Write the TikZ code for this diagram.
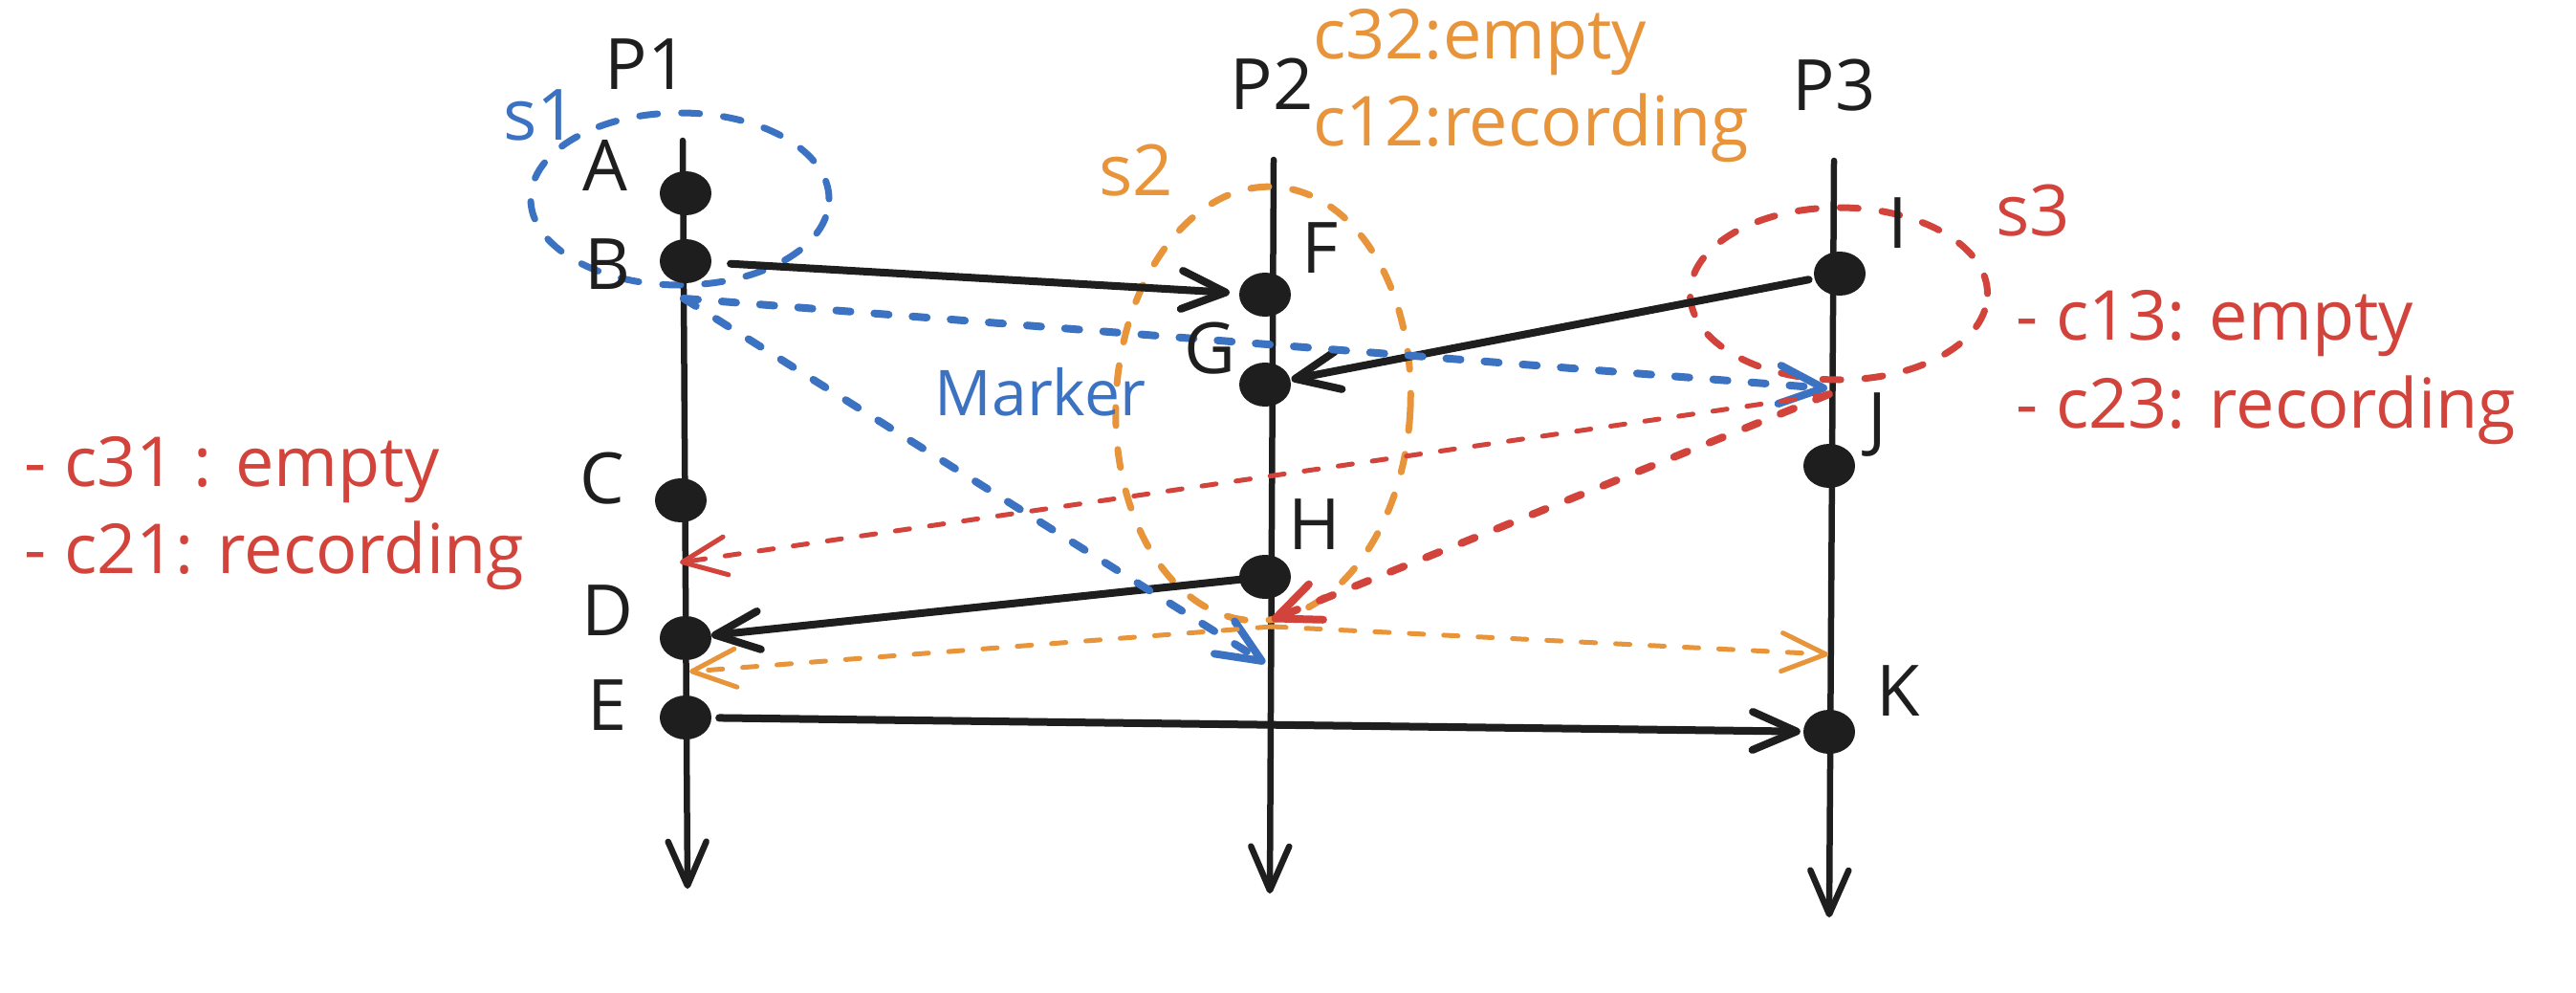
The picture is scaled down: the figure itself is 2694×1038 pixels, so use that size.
\documentclass[tikz,border=0pt]{standalone}
\usepackage{fontspec}
\setmainfont{Open Sans}
\usetikzlibrary{arrows.meta,shapes.geometric}
\definecolor{ink}{HTML}{1E1E1E}
\definecolor{sblue}{HTML}{3B72C1}
\definecolor{sorange}{HTML}{E8943A}
\definecolor{sred}{HTML}{D2443B}
\begin{document}
\begin{tikzpicture}[x=1pt,y=-1pt,
  dot/.style={ellipse,fill=ink,minimum width=54pt,minimum height=46pt,inner sep=0pt},
  lbl/.style={font=\fontsize{74pt}{80pt}\selectfont,text=ink,inner sep=0pt},
  note/.style={font=\fontsize{72pt}{80pt}\selectfont,inner sep=0pt,anchor=base west},
  tipped/.style={-{Straight Barb[length=46pt,width=40pt,round]}},
  proc/.style={draw=ink,line width=6.5pt,line cap=round,tipped},
  msg/.style={draw=ink,line width=8pt,line cap=round,tipped},
  bluedash/.style={draw=sblue,line width=8pt,line cap=round,dash pattern=on 15pt off 25pt,tipped},
  redthick/.style={draw=sred,line width=8pt,line cap=round,dash pattern=on 15pt off 25pt,tipped},
  thindash/.style={line width=5pt,line cap=round,dash pattern=on 15pt off 21pt,tipped},
  snap/.style={ellipse,inner sep=0pt,line width=7pt,line cap=round,dash pattern=on 19pt off 25pt},
]
\path[fill=white,use as bounding box] (0,0) rectangle (2694,1038);

% process lines
\coordinate (P1top) at (714,147);
\coordinate (P1bot) at (719,929);
\coordinate (P2top) at (1332,167);
\coordinate (P2bot) at (1328,934);
\coordinate (P3top) at (1918,168);
\coordinate (P3bot) at (1913,959);
\draw[proc] (P1top) -- (P1bot);
\draw[proc] (P2top) -- (P2bot);
\draw[proc] (P3top) -- (P3bot);

% snapshot ellipses
\node[snap,draw=sblue,minimum width=312pt,minimum height=180pt] (s1e) at (711,208) {};
\node[snap,draw=sorange,minimum width=308pt,minimum height=454pt,rotate=-3] (s2e) at (1321,422) {};
\node[snap,draw=sred,minimum width=311pt,minimum height=180pt] (s3e) at (1923,307) {};

% events
\node[dot] (dA) at (717,202) {};
\node[dot] (dB) at (717,273) {};
\node[dot] (dC) at (712,523) {};
\node[dot] (dD) at (717,667) {};
\node[dot] (dE) at (717,750) {};
\node[dot] (dF) at (1323,308) {};
\node[dot] (dG) at (1323,402) {};
\node[dot] (dH) at (1323,603) {};
\node[dot] (dI) at (1924,286) {};
\node[dot] (dJ) at (1913,487) {};
\node[dot] (dK) at (1913,765) {};

% messages
\draw[msg,shorten <=20pt,shorten >=10pt] (dB) -- (dF);
\draw[msg,shorten <=6pt,shorten >=1pt] (dI) -- (dG);
\draw[msg,shorten >=0pt] (dH) -- (dD);
\draw[msg,shorten <=8pt,shorten >=3pt] (dE) -- (dK);

% marker lines
\coordinate (b0) at (715,312);
\coordinate (bJ) at (1911,406);
\coordinate (bM) at (1323,693);
\draw[bluedash] (b0) -- (bJ);
\draw[bluedash] (b0) -- (bM);

\coordinate (r0) at (1913,412);
\coordinate (rP1) at (711,588);
\coordinate (rP2) at (1330,648);
\draw[thindash,draw=sred] (r0) -- (rP1);
\draw[redthick] (r0) -- (rP2);

\coordinate (o0) at (1330,655);
\coordinate (oP1) at (721,702);
\coordinate (oP3) at (1912,684);
\draw[thindash,draw=sorange] (o0) -- (oP1);
\draw[thindash,draw=sorange] (o0) -- (oP3);

% labels
\node[lbl] (tP1) at (676,67) {P1};
\node[lbl] (tP2) at (1330,88) {P2};
\node[lbl] (tP3) at (1918,89) {P3};
\node[lbl] (tA) at (633,173) {A};
\node[lbl] (tB) at (635,276) {B};
\node[lbl] (tC) at (630,500) {C};
\node[lbl] (tD) at (635,638) {D};
\node[lbl] (tE) at (635,737) {E};
\node[lbl] (tF) at (1381,259) {F};
\node[lbl] (tG) at (1265,364) {G};
\node[lbl] (tH) at (1375,548) {H};
\node[lbl] (tI) at (1985,233) {I};
\node[lbl] (tJ) at (1963,444) {J};
\node[lbl] (tK) at (1985,722) {K};

\node[lbl,text=sblue] (ts1) at (565,120) {s1};
\node[lbl,text=sorange] (ts2) at (1188,178) {s2};
\node[lbl,text=sred] (ts3) at (2126,220) {s3};
\node[lbl,text=sblue,font=\fontsize{66pt}{72pt}\selectfont] (tMarker) at (1088,410) {Marker};

\node[note,text=sorange] (n32) at (1373,62) {c32:empty};
\node[note,text=sorange] (n12) at (1373,153) {c12:recording};
\node[note,text=sred] (n13) at (2108,355) {- c13: empty};
\node[note,text=sred] (n23) at (2108,447) {- c23: recording};
\node[note,text=sred] (n31) at (25,508) {- c31 : empty};
\node[note,text=sred] (n21) at (25,599) {- c21: recording};
\end{tikzpicture}
\end{document}
